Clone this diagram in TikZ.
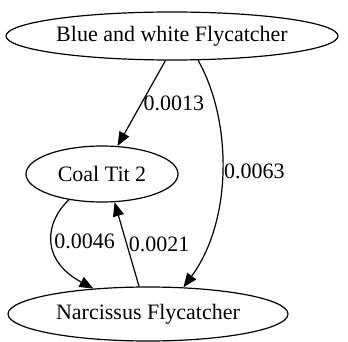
\documentclass[tikz,border=0pt]{standalone}
\usepackage{fontspec}
\setmainfont{Liberation Serif}
\usetikzlibrary{shapes.geometric,arrows.meta}

\begin{document}
\begin{tikzpicture}
        [%%%%%%%%%%%%%%%%%%%%%%%%%%%%%%
        x=1pt,y=-1pt,
        bird/.style={ellipse,draw=black,line width=1.2pt,inner sep=0pt,
                     font=\fontsize{22}{26}\selectfont},
        edge/.style={line width=1.2pt,-{Triangle[length=14pt,width=11pt]}},
        weight/.style={right,inner sep=1.5pt,font=\fontsize{22}{26}\selectfont},
        ]%%%%%%%%%%%%%%%%%%%%%%%%%%%%%%
        
        \useasboundingbox (0,0) rectangle (348,342);
        
        \node[bird,minimum width=332pt,minimum height=48pt] (bwf) at (172,36) {Blue and white Flycatcher};
        \node[bird,minimum width=152pt,minimum height=56pt] (ct) at (102,174) {Coal Tit 2};
        \node[bird,minimum width=280pt,minimum height=54pt] (nf) at (148,314) {Narcissus Flycatcher};
        
        \draw[edge] (bwf.-105) -- node[weight,pos=0.5] {0.0013} (ct.61);
        \draw[edge] (bwf.-43) .. controls (232,120) and (233,220) .. node[weight,pos=0.5] {0.0063} (nf.37);
        \draw[edge] (ct.218) .. controls (45,222) and (40,260) .. node[weight,pos=0.5] {0.0046} (nf.155);
        \draw[edge] (nf.108) -- node[weight,pos=0.5] {0.0021} (ct.-66);
        
      \end{tikzpicture}
\end{document}
